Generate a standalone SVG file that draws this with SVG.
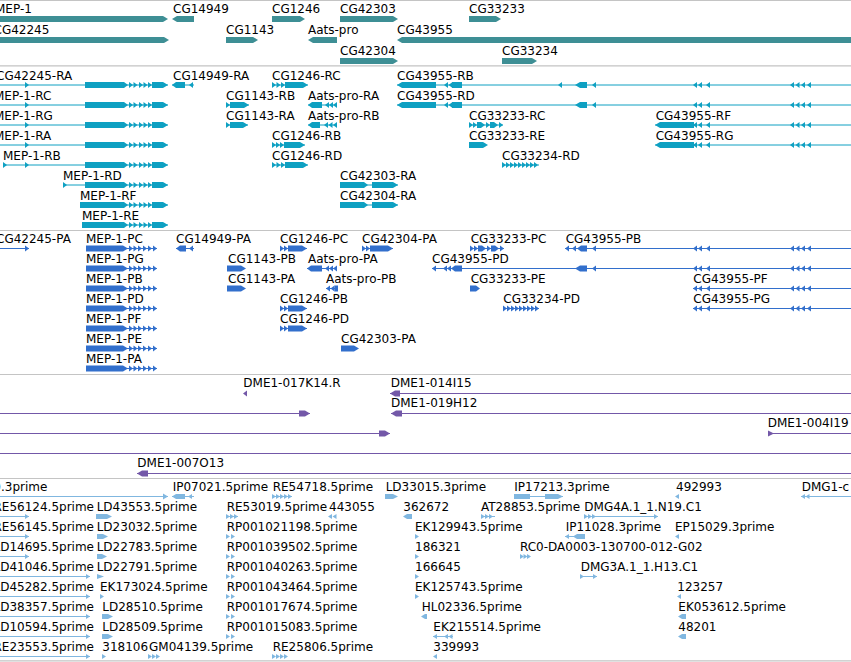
<svg xmlns="http://www.w3.org/2000/svg" xmlns:xlink="http://www.w3.org/1999/xlink" width="851" height="662" viewBox="0 0 851 662">
<style>
text{font-family:"DejaVu Sans","Liberation Sans",sans-serif;font-size:12px;fill:#000}
.sep{stroke:#c4c4c4;stroke-width:1.2}
.ln{stroke:currentColor;stroke-width:1;fill:none}
.k1{color:#3e8f95;fill:currentColor}
.k2{color:#0ea0c2;fill:currentColor}
.k3{color:#326fcc;fill:currentColor}
.k4{color:#7358a8;fill:currentColor}
.k5{color:#80b7e0;fill:currentColor}
</style>
<defs>
<polygon id="tr" points="0,-3 4,0 0,3"/>
<polygon id="tl" points="4,-3 0,0 4,3"/>
<polygon id="tr5" points="0,-2.5 4,0 0,2.5"/>
<polygon id="tl5" points="4,-2.5 0,0 4,2.5"/>
<g id="mepR">
<path class="ln" d="M85 0H168"/>
<polygon points="85,-3 124,-3 128,0 124,3 85,3"/>
<use href="#tr" x="129"/><use href="#tr" x="133.5"/><use href="#tr" x="139"/><use href="#tr" x="143.5"/><use href="#tr" x="148"/>
<polygon points="152,-3 163,-3 168,0 163,3 152,3"/>
</g>
<g id="mepP">
<path class="ln" d="M86 0H157"/>
<polygon points="86,-3 123,-3 128,0 123,3 86,3"/>
<use href="#tr" x="129"/><use href="#tr" x="133.5"/><use href="#tr" x="138"/><use href="#tr" x="143"/><use href="#tr" x="148"/><use href="#tr" x="153"/>
</g>
<g id="c43tail">
<use href="#tl" x="693"/><use href="#tl" x="698"/><use href="#tl" x="706"/><use href="#tl" x="790"/><use href="#tl" x="795.5"/><use href="#tl" x="801"/><use href="#tl" x="807"/>
</g>
</defs>
<rect width="851" height="662" fill="#fff"/>
<g id="tracks">
<path class="sep" d="M0 0.5H851M0 65.8H851M0 230.5H851M0 374.5H851M0 478.5H851M0 660.8H851"/>
</g>
<g id="connectors"/>

<!-- Track 1: genes -->
<g class="k1">
<g id="g-MEP-1" transform="translate(0,19)"><text x="-5" y="-6">MEP-1</text><polygon points="0,-3 163,-3 168,0 163,3 0,3"/></g>
<g id="g-CG14949" transform="translate(0,19)"><text x="173" y="-6">CG14949</text><polygon points="172,0 177,-3 194,-3 194,3 177,3"/></g>
<g id="g-CG1246" transform="translate(0,19)"><text x="272" y="-6">CG1246</text><polygon points="272,-3 300,-3 305,0 300,3 272,3"/></g>
<g id="g-CG42303" transform="translate(0,19)"><text x="340" y="-6">CG42303</text><polygon points="340,-3 393,-3 398,0 393,3 340,3"/></g>
<g id="g-CG33233" transform="translate(0,19)"><text x="469" y="-6">CG33233</text><polygon points="469,-3 496,-3 501,0 496,3 469,3"/></g>
<g id="g-CG42245" transform="translate(0,40)"><text x="-6.5" y="-6">CG42245</text><polygon points="0,-3 164,-3 169,0 164,3 0,3"/></g>
<g id="g-CG1143" transform="translate(0,40)"><text x="226" y="-6">CG1143</text><polygon points="226,-3 253,-3 258,0 253,3 226,3"/></g>
<g id="g-Aats-pro" transform="translate(0,40)"><text x="308" y="-6">Aats-pro</text><polygon points="308,0 313,-3 337,-3 337,3 313,3"/></g>
<g id="g-CG43955" transform="translate(0,40)"><text x="397" y="-6">CG43955</text><polygon points="397,0 402,-3 852,-3 852,3 402,3"/></g>
<g id="g-CG42304" transform="translate(0,61)"><text x="340" y="-6">CG42304</text><polygon points="340,-3 393,-3 398,0 393,3 340,3"/></g>
<g id="g-CG33234" transform="translate(0,61)"><text x="502" y="-6">CG33234</text><polygon points="502,-3 532,-3 537,0 532,3 502,3"/></g>
</g>

<!-- Track 2: transcripts -->
<g class="k2">
<g id="t-CG42245-RA" transform="translate(0,85)"><text x="-4" y="-5.5">CG42245-RA</text><path class="ln" d="M0 0H85"/><use href="#tr" x="25"/><use href="#mepR"/></g>
<g id="t-CG14949-RA" transform="translate(0,85)"><text x="173" y="-5.5">CG14949-RA</text><path class="ln" d="M172 0H194"/><polygon points="172,0 176,-3 185,-3 185,3 176,3"/><use href="#tl" x="189"/></g>
<g id="t-CG1246-RC" transform="translate(0,85)"><text x="272" y="-5.5">CG1246-RC</text><path class="ln" d="M272 0H308"/><use href="#tr" x="272"/><use href="#tr" x="276.5"/><use href="#tr" x="281"/><polygon points="285,-3 303,-3 308,0 303,3 285,3"/></g>
<g id="t-CG43955-RB" transform="translate(0,85)"><text x="397" y="-5.5">CG43955-RB</text><path class="ln" d="M397 0H851"/><polygon points="397,0 402,-3 436,-3 436,3 402,3"/><use href="#tl" x="444"/><use href="#tl" x="448.5"/><rect x="452" y="-3" width="10" height="6"/><use href="#tl" x="558"/><polygon points="575,0 580,-3 587,-3 587,3 580,3"/><use href="#tl" x="592"/><use href="#c43tail"/></g>

<g id="t-MEP-1-RC" transform="translate(0,105)"><text x="-6" y="-5.5">MEP-1-RC</text><path class="ln" d="M0 0H85"/><use href="#tr" x="25"/><use href="#mepR"/></g>
<g id="t-CG1143-RB" transform="translate(0,105)"><text x="226" y="-5.5">CG1143-RB</text><path class="ln" d="M226 0H249"/><use href="#tr" x="226"/><polygon points="230,-3 244,-3 249,0 244,3 230,3"/></g>
<g id="t-Aats-pro-RA" transform="translate(0,105)"><text x="308" y="-5.5">Aats-pro-RA</text><path class="ln" d="M308 0H337"/><polygon points="308,0 312,-3 322,-3 322,3 312,3"/><use href="#tl" x="325"/><use href="#tl" x="329"/><use href="#tl" x="333"/></g>
<g id="t-CG43955-RD" transform="translate(0,105)"><text x="397" y="-5.5">CG43955-RD</text><path class="ln" d="M397 0H851"/><polygon points="397,0 402,-3 436,-3 436,3 402,3"/><use href="#tl" x="444"/><use href="#tl" x="448.5"/><rect x="452" y="-3" width="10" height="6"/><polygon points="575,0 580,-3 587,-3 587,3 580,3"/><use href="#tl" x="592"/><use href="#c43tail"/></g>

<g id="t-MEP-1-RG" transform="translate(0,125)"><text x="-6" y="-5.5">MEP-1-RG</text><path class="ln" d="M0 0H85"/><use href="#tr" x="25"/><use href="#mepR"/></g>
<g id="t-CG1143-RA" transform="translate(0,125)"><text x="226" y="-5.5">CG1143-RA</text><path class="ln" d="M226 0H248"/><use href="#tr" x="226"/><polygon points="230,-3 243,-3 248,0 243,3 230,3"/></g>
<g id="t-Aats-pro-RB" transform="translate(0,125)"><text x="308" y="-5.5">Aats-pro-RB</text><path class="ln" d="M308 0H337"/><polygon points="308,0 312,-3 320,-3 320,3 312,3"/><use href="#tl" x="324"/><use href="#tl" x="328.5"/><use href="#tl" x="333"/></g>
<g id="t-CG33233-RC" transform="translate(0,125)"><text x="469" y="-5.5">CG33233-RC</text><path class="ln" d="M469 0H503"/><use href="#tr" x="469"/><use href="#tr" x="473"/><polygon points="477,-3 481,-3 485,0 481,3 477,3"/><use href="#tr" x="486"/><polygon points="490,-3 494,-3 498,0 494,3 490,3"/><use href="#tr" x="499"/></g>
<g id="t-CG43955-RF" transform="translate(0,125)"><text x="655.7" y="-5.5">CG43955-RF</text><path class="ln" d="M655 0H851"/><polygon points="655,0 660,-3 694,-3 694,3 660,3"/><use href="#c43tail"/></g>

<g id="t-MEP-1-RA" transform="translate(0,145)"><text x="-6" y="-5.5">MEP-1-RA</text><path class="ln" d="M0 0H85"/><use href="#tr" x="25"/><use href="#mepR"/></g>
<g id="t-CG1246-RB" transform="translate(0,145)"><text x="272" y="-5.5">CG1246-RB</text><path class="ln" d="M272 0H305"/><use href="#tr" x="272"/><use href="#tr" x="276"/><use href="#tr" x="280"/><polygon points="284,-3 300,-3 305,0 300,3 284,3"/></g>
<g id="t-CG33233-RE" transform="translate(0,145)"><text x="469" y="-5.5">CG33233-RE</text><polygon points="469,-3 483,-3 488,0 483,3 469,3"/></g>
<g id="t-CG43955-RG" transform="translate(0,145)"><text x="655.7" y="-5.5">CG43955-RG</text><path class="ln" d="M655 0H851"/><polygon points="655,0 660,-3 694,-3 694,3 660,3"/><use href="#c43tail"/></g>

<g id="t-MEP-1-RB" transform="translate(0,165)"><text x="3" y="-5.5">MEP-1-RB</text><path class="ln" d="M3 0H85"/><use href="#tr" x="3"/><use href="#tr" x="25"/><use href="#mepR"/></g>
<g id="t-CG1246-RD" transform="translate(0,165)"><text x="272" y="-5.5">CG1246-RD</text><path class="ln" d="M272 0H308"/><use href="#tr" x="272"/><use href="#tr" x="276.5"/><use href="#tr" x="281"/><polygon points="285,-3 303,-3 308,0 303,3 285,3"/></g>
<g id="t-CG33234-RD" transform="translate(0,165)"><text x="502" y="-5.5">CG33234-RD</text><path class="ln" d="M502 0H539"/><use href="#tr" x="502"/><use href="#tr" x="506"/><use href="#tr" x="510"/><use href="#tr" x="514"/><use href="#tr" x="518"/><use href="#tr" x="522"/><use href="#tr" x="526"/><use href="#tr" x="530"/><use href="#tr" x="534"/></g>

<g id="t-MEP-1-RD" transform="translate(0,185)"><text x="63" y="-5.5">MEP-1-RD</text><path class="ln" d="M63 0H85"/><use href="#tr" x="63"/><use href="#mepR"/></g>
<g id="t-CG42303-RA" transform="translate(0,185)"><text x="340" y="-5.5">CG42303-RA</text><path class="ln" d="M340 0H398"/><polygon points="340,-3 364,-3 368,0 364,3 340,3"/><polygon points="372,-3 393,-3 398,0 393,3 372,3"/></g>

<g id="t-MEP-1-RF" transform="translate(0,205)"><text x="80" y="-5.5">MEP-1-RF</text><rect x="80" y="-3" width="5" height="6"/><use href="#mepR"/></g>
<g id="t-CG42304-RA" transform="translate(0,205)"><text x="340" y="-5.5">CG42304-RA</text><path class="ln" d="M340 0H398"/><polygon points="340,-3 364,-3 368,0 364,3 340,3"/><polygon points="372,-3 393,-3 398,0 393,3 372,3"/></g>

<g id="t-MEP-1-RE" transform="translate(0,225)"><text x="82" y="-5.5">MEP-1-RE</text><rect x="82" y="-3" width="3" height="6"/><use href="#mepR"/></g>
</g>

<!-- Track 3: proteins -->
<g class="k3">
<g id="p-CG42245-PA" transform="translate(0,248.5)"><text x="-4" y="-5.2">CG42245-PA</text><path class="ln" d="M0 0H29"/><use href="#tr" x="25"/></g>
<g id="p-MEP-1-PC" transform="translate(0,248.5)"><text x="86" y="-5.2">MEP-1-PC</text><use href="#mepP"/></g>
<g id="p-CG14949-PA" transform="translate(0,248.5)"><text x="176" y="-5.2">CG14949-PA</text><path class="ln" d="M176 0H194"/><polygon points="176,0 180,-3 186,-3 186,3 180,3"/><use href="#tl" x="189"/></g>
<g id="p-CG1246-PC" transform="translate(0,248.5)"><text x="280" y="-5.2">CG1246-PC</text><path class="ln" d="M280 0H307"/><use href="#tr" x="280"/><use href="#tr" x="284"/><polygon points="288,-3 302,-3 307,0 302,3 288,3"/></g>
<g id="p-CG42304-PA" transform="translate(0,248.5)"><text x="362" y="-5.2">CG42304-PA</text><path class="ln" d="M362 0H393"/><use href="#tr" x="362"/><use href="#tr" x="366"/><polygon points="370,-3 388,-3 393,0 388,3 370,3"/></g>
<g id="p-CG33233-PC" transform="translate(0,248.5)"><text x="470.7" y="-5.2">CG33233-PC</text><path class="ln" d="M470 0H504"/><use href="#tr" x="470"/><use href="#tr" x="474"/><polygon points="478,-3 482,-3 486,0 482,3 478,3"/><use href="#tr" x="487"/><polygon points="491,-3 495,-3 499,0 495,3 491,3"/><use href="#tr" x="500"/></g>
<g id="p-CG43955-PB" transform="translate(0,248.5)"><text x="565.7" y="-5.2">CG43955-PB</text><path class="ln" d="M565 0H851"/><use href="#tl" x="565"/><use href="#tl" x="572"/><polygon points="577,0 581,-3 587,-3 587,3 581,3"/><use href="#tl" x="592"/><use href="#c43tail"/></g>

<g id="p-MEP-1-PG" transform="translate(0,268.5)"><text x="86" y="-5.2">MEP-1-PG</text><use href="#mepP"/></g>
<g id="p-CG1143-PB" transform="translate(0,268.5)"><text x="228" y="-5.2">CG1143-PB</text><polygon points="227,-3 241,-3 246,0 241,3 227,3"/></g>
<g id="p-Aats-pro-PA" transform="translate(0,268.5)"><text x="308" y="-5.2">Aats-pro-PA</text><path class="ln" d="M307 0H337"/><polygon points="307,0 311,-3 322,-3 322,3 311,3"/><use href="#tl" x="325"/><use href="#tl" x="329"/><use href="#tl" x="333"/></g>
<g id="p-CG43955-PD" transform="translate(0,268.5)"><text x="432" y="-5.2">CG43955-PD</text><path class="ln" d="M432 0H851"/><use href="#tl" x="432"/><use href="#tl" x="443"/><use href="#tl" x="447"/><polygon points="451,0 455,-3 462,-3 462,3 455,3"/><polygon points="575,0 580,-3 587,-3 587,3 580,3"/><use href="#tl" x="592"/><use href="#c43tail"/></g>

<g id="p-MEP-1-PB" transform="translate(0,288.5)"><text x="86" y="-5.2">MEP-1-PB</text><use href="#mepP"/></g>
<g id="p-CG1143-PA" transform="translate(0,288.5)"><text x="228" y="-5.2">CG1143-PA</text><polygon points="227,-3 241,-3 246,0 241,3 227,3"/></g>
<g id="p-Aats-pro-PB" transform="translate(0,288.5)"><text x="326" y="-5.2">Aats-pro-PB</text><path class="ln" d="M326 0H338"/><use href="#tl" x="326"/><use href="#tl" x="330.5"/><rect x="334.5" y="-3" width="3.5" height="6"/></g>
<g id="p-CG33233-PE" transform="translate(0,288.5)"><text x="470.7" y="-5.2">CG33233-PE</text><polygon points="470,-3 476,-3 480,0 476,3 470,3"/></g>
<g id="p-CG43955-PF" transform="translate(0,288.5)"><text x="693.3" y="-5.2">CG43955-PF</text><path class="ln" d="M693 0H851"/><use href="#c43tail"/></g>

<g id="p-MEP-1-PD" transform="translate(0,308.5)"><text x="86" y="-5.2">MEP-1-PD</text><use href="#mepP"/></g>
<g id="p-CG1246-PB" transform="translate(0,308.5)"><text x="280" y="-5.2">CG1246-PB</text><path class="ln" d="M280 0H307"/><use href="#tr" x="280"/><use href="#tr" x="284"/><polygon points="288,-3 302,-3 307,0 302,3 288,3"/></g>
<g id="p-CG33234-PD" transform="translate(0,308.5)"><text x="503.3" y="-5.2">CG33234-PD</text><path class="ln" d="M503 0H539"/><use href="#tr" x="503"/><use href="#tr" x="507"/><use href="#tr" x="511"/><use href="#tr" x="515"/><use href="#tr" x="519"/><use href="#tr" x="523"/><use href="#tr" x="527"/><use href="#tr" x="531"/><use href="#tr" x="535"/></g>
<g id="p-CG43955-PG" transform="translate(0,308.5)"><text x="693.3" y="-5.2">CG43955-PG</text><path class="ln" d="M693 0H851"/><use href="#c43tail"/></g>

<g id="p-MEP-1-PF" transform="translate(0,328.5)"><text x="86" y="-5.2">MEP-1-PF</text><use href="#mepP"/></g>
<g id="p-CG1246-PD" transform="translate(0,328.5)"><text x="280" y="-5.2">CG1246-PD</text><path class="ln" d="M280 0H307"/><use href="#tr" x="280"/><use href="#tr" x="284"/><polygon points="288,-3 302,-3 307,0 302,3 288,3"/></g>

<g id="p-MEP-1-PE" transform="translate(0,348.5)"><text x="86" y="-5.2">MEP-1-PE</text><use href="#mepP"/></g>
<g id="p-CG42303-PA" transform="translate(0,348.5)"><text x="341" y="-5.2">CG42303-PA</text><polygon points="341,-3 354,-3 359,0 354,3 341,3"/></g>

<g id="p-MEP-1-PA" transform="translate(0,368.5)"><text x="86" y="-5.2">MEP-1-PA</text><use href="#mepP"/></g>
</g>

<!-- Track 4: clones -->
<g class="k4">
<g id="c-DME1-017K14.R" transform="translate(0,393.5)"><text x="243.3" y="-6.5">DME1-017K14.R</text><use href="#tl" x="243"/></g>
<g id="c-DME1-014I15" transform="translate(0,393.5)"><text x="390.7" y="-6.5">DME1-014I15</text><path class="ln" d="M390 0H851"/><polygon points="390,0 395,-3 400,-3 400,3 395,3"/></g>
<g id="c-row2-left" transform="translate(0,413.5)"><path class="ln" d="M0 0H310"/><polygon points="299,-3 305,-3 310,0 305,3 299,3"/></g>
<g id="c-DME1-019H12" transform="translate(0,413.5)"><text x="391" y="-6.5">DME1-019H12</text><path class="ln" d="M391 0H851"/><polygon points="391,0 396,-3 402,-3 402,3 396,3"/></g>
<g id="c-row3-left" transform="translate(0,433.5)"><path class="ln" d="M0 0H390"/><polygon points="379,-3 385,-3 390,0 385,3 379,3"/></g>
<g id="c-DME1-004I19" transform="translate(0,433.5)"><text x="767.7" y="-6.5">DME1-004I19</text><path class="ln" d="M768 0H851"/><polygon points="768,-3 774,0 768,3"/></g>
<g id="c-row4" transform="translate(0,453.5)"><path class="ln" d="M0 0H851"/></g>
<g id="c-DME1-007O13" transform="translate(0,473.5)"><text x="137.3" y="-6.5">DME1-007O13</text><path class="ln" d="M137 0H851"/><polygon points="137,0 142,-3 148,-3 148,3 142,3"/></g>
</g>

<!-- Track 5: ESTs -->
<g class="k5">
<g id="e-0.3prime" transform="translate(0,496.5)"><text x="-6.7" y="-5.7">0.3prime</text><path class="ln" d="M0 0H168"/><polygon points="163,-3 168,0 163,3"/></g>
<g id="e-IP07021.5prime" transform="translate(0,496.5)"><text x="172.7" y="-5.7">IP07021.5prime</text><path class="ln" d="M172 0H194"/><polygon points="172,0 176,-2.5 185,-2.5 185,2.5 176,2.5"/><use href="#tl5" x="188"/></g>
<g id="e-RE54718.5prime" transform="translate(0,496.5)"><text x="272.7" y="-5.7">RE54718.5prime</text><path class="ln" d="M272 0H292"/><use href="#tr5" x="272"/><use href="#tr5" x="276"/><use href="#tr5" x="280"/><use href="#tr5" x="284"/><use href="#tr5" x="288"/></g>
<g id="e-LD33015.3prime" transform="translate(0,496.5)"><text x="385.7" y="-5.7">LD33015.3prime</text><polygon points="385,-2.5 393,-2.5 398,0 393,2.5 385,2.5"/></g>
<g id="e-IP17213.3prime" transform="translate(0,496.5)"><text x="514.3" y="-5.7">IP17213.3prime</text><path class="ln" d="M514 0H563"/><rect x="514" y="-2.5" width="16" height="5"/><polygon points="545,-2.5 558,-2.5 563,0 558,2.5 545,2.5"/></g>
<g id="e-492993" transform="translate(0,496.5)"><text x="676" y="-5.7">492993</text><use href="#tl5" x="675"/></g>
<g id="e-DMG1-c" transform="translate(0,496.5)"><text x="801.7" y="-5.7">DMG1-c</text><path class="ln" d="M801 0H851"/><use href="#tl5" x="801"/><use href="#tl5" x="805.5"/></g>

<g id="e-RE56124.5prime" transform="translate(0,516.5)"><text x="-6.5" y="-5.7">RE56124.5prime</text><path class="ln" d="M0 0H29"/><use href="#tr5" x="25"/></g>
<g id="e-LD43553.5prime" transform="translate(0,516.5)"><text x="96.7" y="-5.7">LD43553.5prime</text><polygon points="96,-2.5 107,-2.5 112,0 107,2.5 96,2.5"/></g>
<g id="e-RE53019.5prime" transform="translate(0,516.5)"><text x="226.7" y="-5.7">RE53019.5prime</text><path class="ln" d="M226 0H238"/><use href="#tr5" x="226"/><use href="#tr5" x="230"/><use href="#tr5" x="234"/></g>
<g id="e-443055" transform="translate(0,516.5)"><text x="329" y="-5.7">443055</text><use href="#tl5" x="328"/><use href="#tl5" x="332.5"/></g>
<g id="e-362672" transform="translate(0,516.5)"><text x="403.3" y="-5.7">362672</text><polygon points="403,0 407,-2.5 412,-2.5 412,2.5 407,2.5"/></g>
<g id="e-AT28853.5prime" transform="translate(0,516.5)"><text x="481" y="-5.7">AT28853.5prime</text><path class="ln" d="M481 0H495"/><use href="#tr5" x="481"/><use href="#tr5" x="485"/><use href="#tr5" x="489"/></g>
<g id="e-DMG4A.1_1.N19.C1" transform="translate(0,516.5)"><text x="584.3" y="-5.7">DMG4A.1_1.N19.C1</text><path class="ln" d="M584 0H658"/><use href="#tr5" x="584"/><use href="#tr5" x="588"/><use href="#tr5" x="592"/><use href="#tr5" x="654"/></g>

<g id="e-RE56145.5prime" transform="translate(0,536.5)"><text x="-6.5" y="-5.7">RE56145.5prime</text><path class="ln" d="M0 0H29"/><use href="#tr5" x="25"/></g>
<g id="e-LD23032.5prime" transform="translate(0,536.5)"><text x="96.7" y="-5.7">LD23032.5prime</text><polygon points="97,-2.5 103,-2.5 108,0 103,2.5 97,2.5"/></g>
<g id="e-RP001021198.5prime" transform="translate(0,536.5)"><text x="226.7" y="-5.7">RP001021198.5prime</text><use href="#tr5" x="226"/><use href="#tr5" x="231"/></g>
<g id="e-EK129943.5prime" transform="translate(0,536.5)"><text x="415" y="-5.7">EK129943.5prime</text><use href="#tr5" x="415"/></g>
<g id="e-IP11028.3prime" transform="translate(0,536.5)"><text x="565.7" y="-5.7">IP11028.3prime</text><path class="ln" d="M565 0H585"/><use href="#tl5" x="565"/><use href="#tl5" x="573"/><rect x="577" y="-2.5" width="8" height="5"/></g>
<g id="e-EP15029.3prime" transform="translate(0,536.5)"><text x="675" y="-5.7">EP15029.3prime</text><use href="#tl5" x="675"/></g>

<g id="e-LD14695.5prime" transform="translate(0,556.5)"><text x="-6.5" y="-5.7">LD14695.5prime</text><path class="ln" d="M0 0H29"/><use href="#tr5" x="25"/></g>
<g id="e-LD22783.5prime" transform="translate(0,556.5)"><text x="96.7" y="-5.7">LD22783.5prime</text><polygon points="97,-2.5 102,-2.5 107,0 102,2.5 97,2.5"/></g>
<g id="e-RP001039502.5prime" transform="translate(0,556.5)"><text x="226.7" y="-5.7">RP001039502.5prime</text><use href="#tr5" x="226"/><use href="#tr5" x="231"/></g>
<g id="e-186321" transform="translate(0,556.5)"><text x="415" y="-5.7">186321</text><use href="#tr5" x="415"/></g>
<g id="e-RC0-DA0003-130700-012-G02" transform="translate(0,556.5)"><text x="520" y="-5.7">RC0-DA0003-130700-012-G02</text><use href="#tr5" x="520"/><use href="#tr5" x="523.5"/><use href="#tr5" x="527"/></g>

<g id="e-LD41046.5prime" transform="translate(0,576.5)"><text x="-6.5" y="-5.7">LD41046.5prime</text><path class="ln" d="M0 0H90"/><use href="#tr5" x="86"/></g>
<g id="e-LD22791.5prime" transform="translate(0,576.5)"><text x="96.7" y="-5.7">LD22791.5prime</text><polygon points="97,-2.5 104,0 97,2.5"/></g>
<g id="e-RP001040263.5prime" transform="translate(0,576.5)"><text x="226.7" y="-5.7">RP001040263.5prime</text><use href="#tr5" x="226"/><use href="#tr5" x="231"/></g>
<g id="e-166645" transform="translate(0,576.5)"><text x="415" y="-5.7">166645</text><use href="#tr5" x="415"/></g>
<g id="e-DMG3A.1_1.H13.C1" transform="translate(0,576.5)"><text x="580.7" y="-5.7">DMG3A.1_1.H13.C1</text><path class="ln" d="M580 0H597"/><use href="#tr5" x="580"/><use href="#tr5" x="593"/></g>

<g id="e-LD45282.5prime" transform="translate(0,596.5)"><text x="-6.5" y="-5.7">LD45282.5prime</text><path class="ln" d="M0 0H90"/><use href="#tr5" x="86"/></g>
<g id="e-EK173024.5prime" transform="translate(0,596.5)"><text x="100" y="-5.7">EK173024.5prime</text><use href="#tr5" x="100"/></g>
<g id="e-RP001043464.5prime" transform="translate(0,596.5)"><text x="226.7" y="-5.7">RP001043464.5prime</text><use href="#tr5" x="226"/><use href="#tr5" x="231"/></g>
<g id="e-EK125743.5prime" transform="translate(0,596.5)"><text x="415" y="-5.7">EK125743.5prime</text><use href="#tr5" x="415"/></g>
<g id="e-123257" transform="translate(0,596.5)"><text x="677.3" y="-5.7">123257</text><use href="#tl5" x="677"/></g>

<g id="e-LD38357.5prime" transform="translate(0,616.5)"><text x="-6.5" y="-5.7">LD38357.5prime</text><path class="ln" d="M0 0H90"/><use href="#tr5" x="86"/></g>
<g id="e-LD28510.5prime" transform="translate(0,616.5)"><text x="102.3" y="-5.7">LD28510.5prime</text><polygon points="102,-2.5 108,-2.5 113,0 108,2.5 102,2.5"/></g>
<g id="e-RP001017674.5prime" transform="translate(0,616.5)"><text x="226.7" y="-5.7">RP001017674.5prime</text><use href="#tr5" x="226"/><use href="#tr5" x="231"/></g>
<g id="e-HL02336.5prime" transform="translate(0,616.5)"><text x="421.7" y="-5.7">HL02336.5prime</text><polygon points="421,0 425,-2.5 427,-2.5 427,2.5 425,2.5"/></g>
<g id="e-EK053612.5prime" transform="translate(0,616.5)"><text x="678.3" y="-5.7">EK053612.5prime</text><polygon points="678,0 682,-2.5 686,-2.5 686,2.5 682,2.5"/></g>

<g id="e-LD10594.5prime" transform="translate(0,636.5)"><text x="-6.5" y="-5.7">LD10594.5prime</text><path class="ln" d="M0 0H90"/><use href="#tr5" x="86"/></g>
<g id="e-LD28509.5prime" transform="translate(0,636.5)"><text x="102.3" y="-5.7">LD28509.5prime</text><polygon points="102,-2.5 108,-2.5 113,0 108,2.5 102,2.5"/></g>
<g id="e-RP001015083.5prime" transform="translate(0,636.5)"><text x="226.7" y="-5.7">RP001015083.5prime</text><use href="#tr5" x="226"/><use href="#tr5" x="231"/></g>
<g id="e-EK215514.5prime" transform="translate(0,636.5)"><text x="433.3" y="-5.7">EK215514.5prime</text><path class="ln" d="M433 0H453"/><use href="#tl5" x="433"/><use href="#tl5" x="444"/><use href="#tl5" x="448.5"/></g>
<g id="e-48201" transform="translate(0,636.5)"><text x="678.3" y="-5.7">48201</text><polygon points="678,0 682,-2.5 686,-2.5 686,2.5 682,2.5"/></g>

<g id="e-RE23553.5prime" transform="translate(0,656.5)"><text x="-6.5" y="-5.7">RE23553.5prime</text><path class="ln" d="M0 0H90"/><use href="#tr5" x="86"/></g>
<g id="e-318106" transform="translate(0,656.5)"><text x="102.3" y="-5.7">318106</text><use href="#tr5" x="102"/></g>
<g id="e-GM04139.5prime" transform="translate(0,656.5)"><text x="149" y="-5.7">GM04139.5prime</text><use href="#tr5" x="148"/><use href="#tr5" x="152"/><use href="#tr5" x="156"/></g>
<g id="e-RE25806.5prime" transform="translate(0,656.5)"><text x="272.7" y="-5.7">RE25806.5prime</text><use href="#tr5" x="272"/><use href="#tr5" x="276"/><use href="#tr5" x="280"/><use href="#tr5" x="284"/></g>
<g id="e-339993" transform="translate(0,656.5)"><text x="433.3" y="-5.7">339993</text><use href="#tl5" x="433"/></g>
</g>
</svg>
